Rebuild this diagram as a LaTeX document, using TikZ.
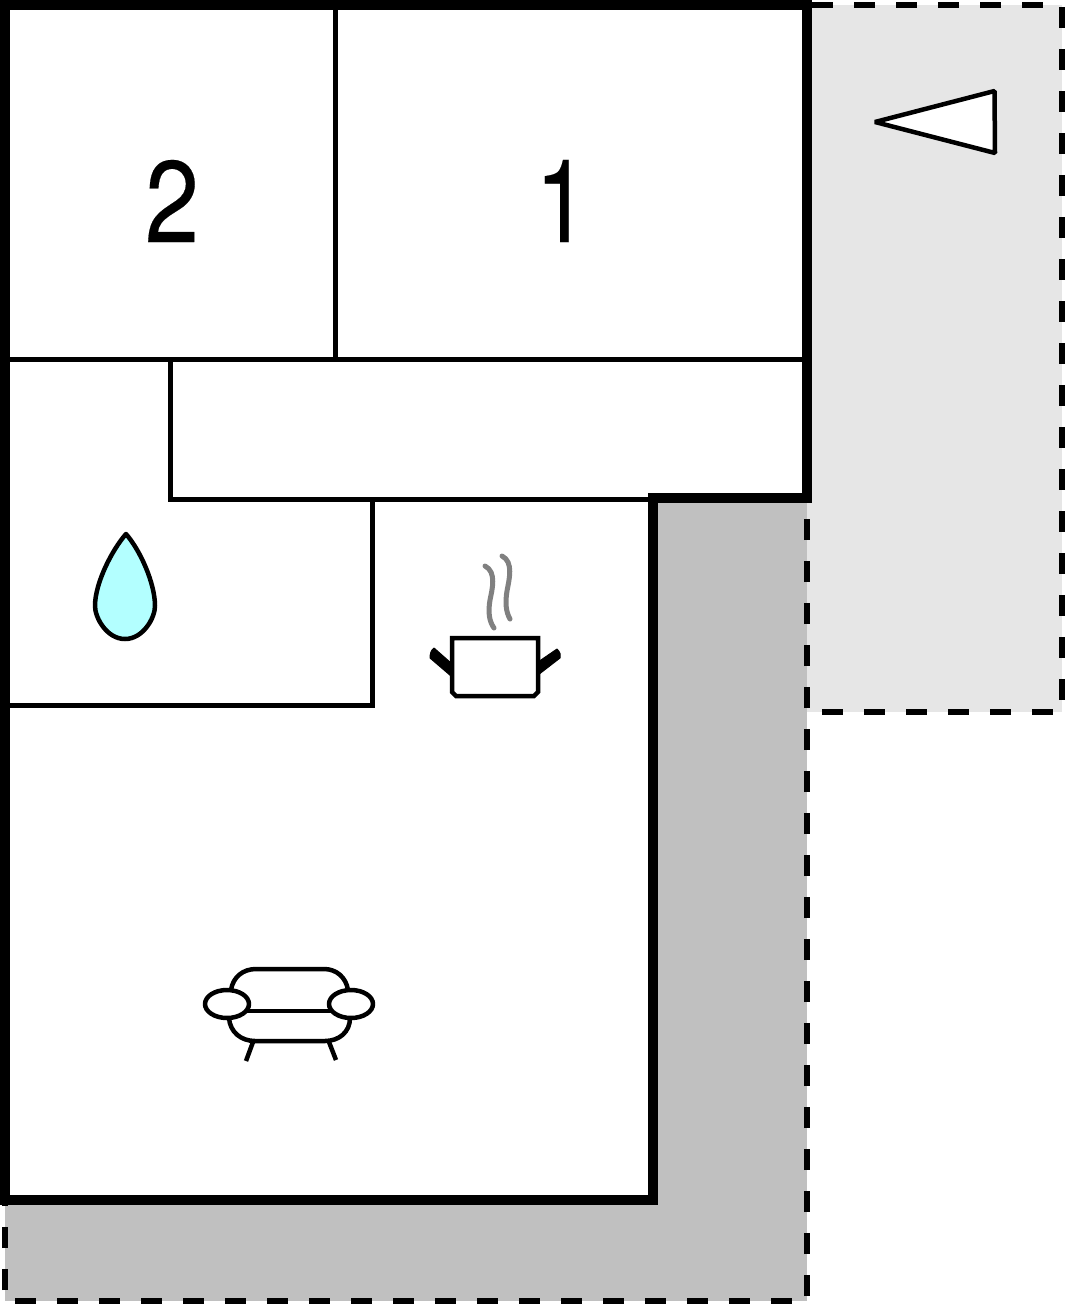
\documentclass[tikz,border=0pt]{standalone}
\usepackage{fontspec}
\newfontfamily\roomfont[FakeBold=0.15,FakeStretch=0.84]{TeX Gyre Heros}
\usepackage{tikz}
\definecolor{dropblue}{RGB}{179,255,255}
\definecolor{outerlight}{RGB}{230,230,230}
\definecolor{outerdark}{RGB}{192,192,192}
\begin{document}
\begin{tikzpicture}
                    [x=1pt, y=-1pt,
                    wall/.style={line width=10pt, line join=miter},
                    inner/.style={line width=5pt, line join=miter},
                    plot/.style={line width=6pt, dash pattern=on 21pt off 21pt},
                    icon/.style={line width=4.5pt, line join=round, line cap=round},
                    steam/.style={line width=5pt, line cap=round, color=black!50},
                    handle/.style={fill=black, draw=black, line width=1pt, line join=round},
                    room/.style={font=\roomfont\fontsize{116}{116}\selectfont, inner sep=0pt}]

                    \useasboundingbox (0,0) rectangle (1065,1304);

                    % outside areas
                    \fill[outerlight] (807,5) rectangle (1062,712);
                    \fill[outerdark] (5,503) -| (807,1301) -| cycle;
                    \draw[plot] (812,5) -- (1062,5);
                    \draw[plot] (1062,7) -- (1062,712);
                    \draw[plot] (822,712) -- (1062,712);
                    \draw[plot] (807,1296) -- (807,503);
                    \draw[plot] (15,1301) -- (807,1301);
                    \draw[plot] (5,1290) -- (5,1205);

                    % house
                    \fill[white] (5,5) -- (807,5) -- (807,498) -- (653,498)
                        -- (653,1200) -- (5,1200) -- cycle;
                    \draw[inner] (335,5) -- (335,359);
                    \draw[inner] (5,359) -- (807,359);
                    \draw[inner] (170,359) -- (170,499) -- (653,499);
                    \draw[inner] (372,499) -- (372,705) -- (5,705);
                    \draw[wall] (5,5) -- (807,5) -- (807,498) -- (653,498)
                        -- (653,1200) -- (5,1200) -- cycle;

                    \node[room] (two) at (172,201) {2};
                    \node[room] (one) at (562,201) {1};

                    % north mark
                    \draw[icon, fill=white, line join=bevel] (875,122) -- (994.5,91)
                        -- (995,153) -- cycle;

                    % drop
                    \draw[icon, fill=dropblue] (126,534)
                        .. controls (140,550) and (155,583) .. (155,606)
                        .. controls (155,618) and (143,639) .. (125,639)
                        .. controls (107,639) and (95,618) .. (95,606)
                        .. controls (95,583) and (112,550) .. (126,534) -- cycle;

                    % pot
                    \draw[handle] (451,663) -- (434,648) .. controls (431,650) and (430,654) .. (430,658)
                        -- (451,676) -- cycle;
                    \draw[handle] (538,662) -- (557,649) .. controls (560,652) and (561,655) .. (560,658)
                        -- (538,675) -- cycle;
                    \draw[icon, fill=white, line join=miter] (452,638) -- (538,638)
                        -- (538,692) -- (534,696) -- (456,696) -- (452,692) -- cycle;
                    \draw[steam] (485,566) .. controls (497,572) and (492,590) .. (490,600)
                        .. controls (488,612) and (489,621) .. (494,628);
                    \draw[steam] (502,556) .. controls (514,562) and (509,580) .. (507,591)
                        .. controls (505,603) and (506,612) .. (510,619);

                    % sofa
                    \draw[icon] (231,990) .. controls (233,977) and (243,969) .. (256,969)
                        -- (324,969) .. controls (336,969) and (346,977) .. (348,990);
                    \draw[icon] (247,1011) -- (330,1011);
                    \draw[icon] (229,1018) .. controls (230,1032) and (241,1041) .. (255,1041)
                        -- (325,1041) .. controls (339,1041) and (350,1032) .. (350,1018);
                    \draw[icon, fill=white] (227,1004) ellipse [x radius=22, y radius=14];
                    \draw[icon, fill=white] (351,1004) ellipse [x radius=22, y radius=14];
                    \draw[icon, line cap=butt] (253,1042) -- (246,1061);
                    \draw[icon, line cap=butt] (329,1042) -- (336,1060);
                \end{tikzpicture}
\end{document}
